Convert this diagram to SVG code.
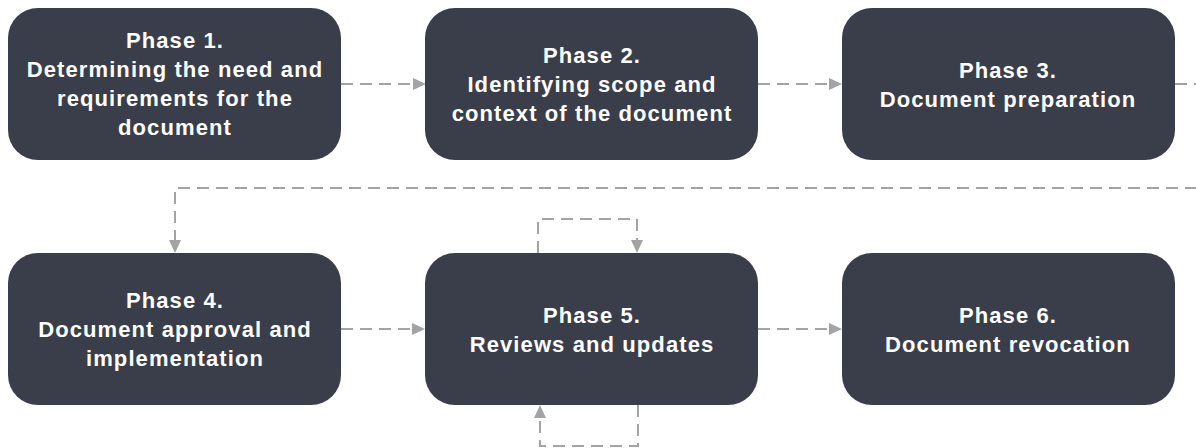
<svg xmlns="http://www.w3.org/2000/svg" width="1196" height="448" viewBox="0 0 1196 448">
  <style>
    .box { fill: #393e4a; }
    .label { font-family: "Liberation Sans", Arial, sans-serif; font-weight: bold; font-size: 22px; letter-spacing: 1.1px; fill: #ffffff; text-anchor: middle; }
    .link { fill: none; stroke: #a3a3a3; stroke-width: 2; stroke-dasharray: 12 7; marker-end: url(#arrow); }
  </style>
  <defs>
    <marker id="arrow" markerUnits="userSpaceOnUse" markerWidth="13" markerHeight="12" refX="0" refY="6" orient="auto">
      <path d="M0,0 L13,6 L0,12 Z" fill="#a3a3a3"/>
    </marker>
  </defs>
  <rect width="1196" height="448" fill="#ffffff"/>

  <!-- connectors -->
  <g id="connectors">
    <path class="link" d="M341,84 H413"/>
    <path class="link" d="M758,84 H829"/>
    <path class="link" d="M1175,84 H1210 V188 H175 V240"/>
    <path class="link" d="M341,329 H412"/>
    <path class="link" d="M758,329 H829"/>
    <path class="link" d="M538,253 V219 H637 V240"/>
    <path class="link" d="M638,405 V446 H540 V418"/>
  </g>

  <!-- phase nodes -->
  <g id="phase1">
    <rect class="box" x="8" y="8" width="333" height="152" rx="30"/>
    <text class="label" x="175" y="48">Phase 1.</text>
    <text class="label" x="175" y="77">Determining the need and</text>
    <text class="label" x="175" y="106">requirements for the</text>
    <text class="label" x="175" y="135">document</text>
  </g>
  <g id="phase2">
    <rect class="box" x="425" y="8" width="333" height="152" rx="30"/>
    <text class="label" x="592" y="63">Phase 2.</text>
    <text class="label" x="592" y="92">Identifying scope and</text>
    <text class="label" x="592" y="121">context of the document</text>
  </g>
  <g id="phase3">
    <rect class="box" x="842" y="8" width="333" height="152" rx="30"/>
    <text class="label" x="1008" y="78">Phase 3.</text>
    <text class="label" x="1008" y="107">Document preparation</text>
  </g>
  <g id="phase4">
    <rect class="box" x="8" y="253" width="333" height="152" rx="30"/>
    <text class="label" x="175" y="308">Phase 4.</text>
    <text class="label" x="175" y="337">Document approval and</text>
    <text class="label" x="175" y="366">implementation</text>
  </g>
  <g id="phase5">
    <rect class="box" x="425" y="253" width="333" height="152" rx="30"/>
    <text class="label" x="592" y="323">Phase 5.</text>
    <text class="label" x="592" y="352">Reviews and updates</text>
  </g>
  <g id="phase6">
    <rect class="box" x="842" y="253" width="333" height="152" rx="30"/>
    <text class="label" x="1008" y="323">Phase 6.</text>
    <text class="label" x="1008" y="352">Document revocation</text>
  </g>
</svg>
